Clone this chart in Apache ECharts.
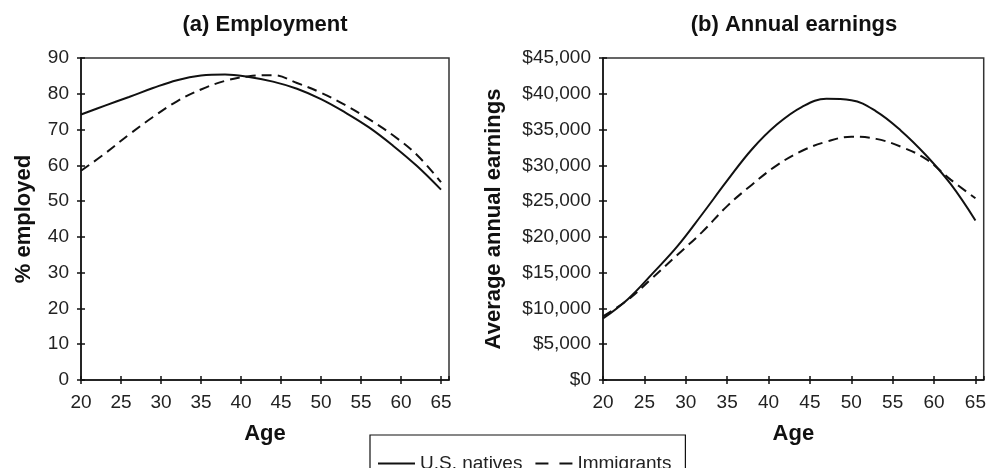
<!DOCTYPE html>
<html>
<head>
<meta charset="utf-8">
<script src="https://cdn.jsdelivr.net/npm/echarts@6/dist/echarts.min.js"></script>
<style>
  html, body { margin: 0; padding: 0; background: #fff; }
  #chart { width: 989px; height: 468px; }
</style>
</head>
<body>
<div id="chart"></div>
<script>
// Age profiles of employment and earnings, natives vs immigrants
const ages = [20, 23, 26, 29, 32, 35, 38, 41, 44, 47, 50, 53, 56, 59, 62, 65];

// (a) percent employed
const employNatives    = [74.2, 76.7, 79.1, 81.6, 83.8, 85.1, 85.4, 84.7, 83.4, 81.4, 78.5, 74.8, 70.6, 65.5, 59.8, 53.2];
const employImmigrants = [58.5, 63.3, 68.6, 73.5, 77.9, 81.2, 83.6, 84.9, 85.2, 83.0, 80.3, 76.9, 72.9, 68.4, 62.9, 55.3];

// (b) average annual earnings, dollars
const earnNatives    = [8600, 11300, 14900, 18700, 23200, 27850, 32250, 35700, 38150, 39300, 39100, 37550, 34850, 31450, 27400, 22300];
const earnImmigrants = [8900, 11200, 14300, 17500, 20700, 24300, 27300, 30000, 32000, 33300, 34000, 33700, 32600, 30900, 28000, 25400];

const panelTitles = ['(a) Employment', '(b) Annual earnings'];
const yNames = ['% employed', 'Average annual earnings'];
const xName = 'Age';
const seriesNames = ['U.S. natives', 'Immigrants'];

const FONT = '"Liberation Sans", Arial, Helvetica, sans-serif';
const INK = '#111';
const LABEL = '#222';

const pair = (xs, ys) => xs.map((x, i) => [x, ys[i]]);

function xAxes(gridIndex) {
  const base = {
    type: 'value', gridIndex: gridIndex, position: 'bottom',
    min: 20, max: 66, interval: 5, splitLine: { show: false }
  };
  return [
    Object.assign({}, base, {
      name: xName, nameLocation: 'middle', nameGap: 43,
      nameTextStyle: { fontFamily: FONT, fontSize: 22, fontWeight: 'bold', color: INK },
      axisLine: { onZero: false, lineStyle: { color: INK, width: 1.5 } },
      axisTick: { inside: false, length: 4, lineStyle: { color: INK, width: 1.5 } },
      axisLabel: { fontFamily: FONT, fontSize: 19, color: LABEL, margin: 13, showMaxLabel: false }
    }),
    Object.assign({}, base, {
      axisLine: { show: false },
      axisTick: { inside: true, length: 4, lineStyle: { color: INK, width: 1.5 } },
      axisLabel: { show: false }
    })
  ];
}

function yAxes(gridIndex, max, interval, name, nameGap, fmt) {
  const base = {
    type: 'value', gridIndex: gridIndex, position: 'left',
    min: 0, max: max, interval: interval, splitLine: { show: false }
  };
  return [
    Object.assign({}, base, {
      name: name, nameLocation: 'middle', nameGap: nameGap,
      nameTextStyle: { fontFamily: FONT, fontSize: 22, fontWeight: 'bold', color: INK },
      axisLine: { show: true, lineStyle: { color: INK, width: 1.5 } },
      axisTick: { show: true, inside: false, length: 4, lineStyle: { color: INK, width: 1.5 } },
      axisLabel: { fontFamily: FONT, fontSize: 19, color: LABEL, margin: 12, formatter: fmt }
    }),
    Object.assign({}, base, {
      axisLine: { show: false },
      axisTick: { show: true, inside: true, length: 4, lineStyle: { color: INK, width: 1.5 } },
      axisLabel: { show: false }
    })
  ];
}

const dollars = v => '$' + v.toLocaleString('en-US');

function lineSeries(name, data, xi, yi, dashed) {
  return {
    type: 'line', name: name, data: data,
    xAxisIndex: xi, yAxisIndex: yi,
    smooth: 0.4, symbol: 'none', silent: true,
    lineStyle: { color: INK, width: 2, type: dashed ? [10, 6] : 'solid' },
    itemStyle: { color: INK }
  };
}

// legend keys: a plain bar for the solid line, two short bars for the dashed one
const solidKey = 'path://M0,0h37v2h-37z';
const dashedKey = 'path://M0,0h13v2h-13zM24,0h13v2h-13z';

const chart = echarts.init(document.getElementById('chart'), null, { renderer: 'canvas' });

chart.setOption({
  animation: false,
  backgroundColor: '#fff',
  textStyle: { fontFamily: FONT },
  title: [
    { text: panelTitles[0], left: 260, top: 9, textAlign: 'center',
      textStyle: { fontFamily: FONT, fontSize: 22, fontWeight: 'bold', color: INK } },
    { text: panelTitles[1], left: 789, top: 9, textAlign: 'center',
      textStyle: { fontFamily: FONT, fontSize: 22, fontWeight: 'bold', color: INK } }
  ],
  grid: [
    { left: 81, top: 58, right: 540, bottom: 88, show: true, borderColor: '#333', borderWidth: 1.5 },
    { left: 603, top: 58, right: 4, bottom: 88, show: true, borderColor: '#333', borderWidth: 1.5 }
  ],
  xAxis: xAxes(0).concat(xAxes(1)),
  yAxis: yAxes(0, 90, 10, yNames[0], 46, null)
    .concat(yAxes(1, 45000, 5000, yNames[1], 98, dollars)),
  legend: {
    left: 370, top: 435,
    padding: [19, 14, 12, 8],
    borderColor: '#111', borderWidth: 1.2,
    itemWidth: 37, itemHeight: 2, itemGap: 13,
    textStyle: { fontFamily: FONT, fontSize: 19, color: LABEL },
    data: [
      { name: seriesNames[0], icon: solidKey },
      { name: seriesNames[1], icon: dashedKey }
    ]
  },
  series: [
    lineSeries(seriesNames[0], pair(ages, employNatives), 0, 0, false),
    lineSeries(seriesNames[1], pair(ages, employImmigrants), 0, 0, true),
    lineSeries(seriesNames[0], pair(ages, earnNatives), 2, 2, false),
    lineSeries(seriesNames[1], pair(ages, earnImmigrants), 2, 2, true)
  ]
});
</script>
</body>
</html>
